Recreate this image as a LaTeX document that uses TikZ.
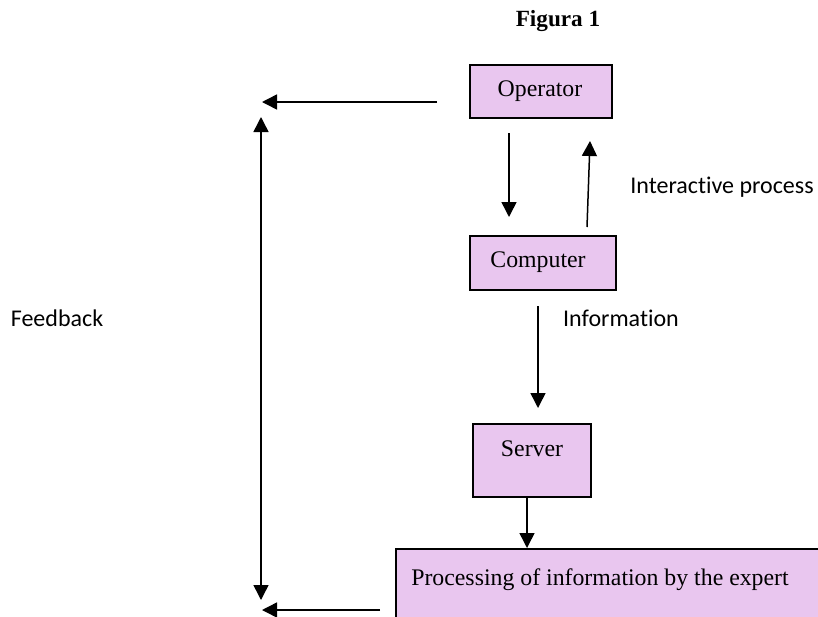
\documentclass[tikz,border=0pt]{standalone}
\usepackage{fontspec}
\setmainfont{Liberation Serif}
\newfontfamily\calibrifont[Ligatures=NoCommon]{Carlito}
\usetikzlibrary{arrows.meta}
\definecolor{boxfill}{RGB}{233,198,239}
\tikzset{
  box/.style={draw=black, line width=1.5pt, fill=boxfill, inner sep=0pt, anchor=north west},
  boxtext/.style={font=\fontsize{23.8}{28}\selectfont, inner sep=0pt},
  lbl/.style={font=\calibrifont\fontsize{24}{28}\selectfont, inner sep=0pt},
  arr/.style={line width=1.5pt, -{Triangle[length=15pt,width=15pt]}},
  darr/.style={line width=1.5pt, {Triangle[length=15pt,width=15pt]}-{Triangle[length=15pt,width=15pt]}}
}
\begin{document}
\begin{tikzpicture}[x=1pt,y=-1pt]
\useasboundingbox (0,0) rectangle (818,616);
\node[font=\bfseries\fontsize{23.2}{28}\selectfont, inner sep=0pt] (title) at (558,21) {Figura 1};
% boxes
\node[box, minimum width=142pt, minimum height=53pt] (op) at (469,64) {};
\node[boxtext] (optext) at (540,91) {Operator};
\node[box, minimum width=146pt, minimum height=54pt] (comp) at (469,235) {};
\node[boxtext] (comptext) at (538,262) {Computer};
\node[box, minimum width=118pt, minimum height=73pt] (serv) at (472,423) {};
\node[boxtext] (servtext) at (532,449) {Server};
\node[box, minimum width=440pt, minimum height=90pt] (proc) at (395,548) {};
\node[boxtext] (proctext) at (600,580) {Processing of information by the expert};
% labels
\node[lbl] (inter) at (722,187) {Interactive process};
\node[lbl] (feed) at (57,318) {Feedback};
\node[lbl] (info) at (621,318) {Information};
% coordinates
\coordinate (a1s) at (437,102);
\coordinate (a1e) at (262,102);
\coordinate (vt) at (261,117);
\coordinate (vb) at (261,600);
\coordinate (a2s) at (380,610);
\coordinate (a2e) at (262,610);
\coordinate (d1s) at (509,133);
\coordinate (d1e) at (509,217);
\coordinate (u1s) at (587,227);
\coordinate (u1e) at (590,141);
\coordinate (d2s) at (538,306);
\coordinate (d2e) at (538,408);
\coordinate (d3e) at (527,548);
% arrows
\draw[arr] (a1s) -- (a1e);
\draw[darr] (vt) -- (vb);
\draw[arr] (a2s) -- (a2e);
\draw[arr] (d1s) -- (d1e);
\draw[arr] (u1s) -- (u1e);
\draw[arr] (d2s) -- (d2e);
\draw[arr] (serv.south -| d3e) -- (d3e);
\end{tikzpicture}
\end{document}
